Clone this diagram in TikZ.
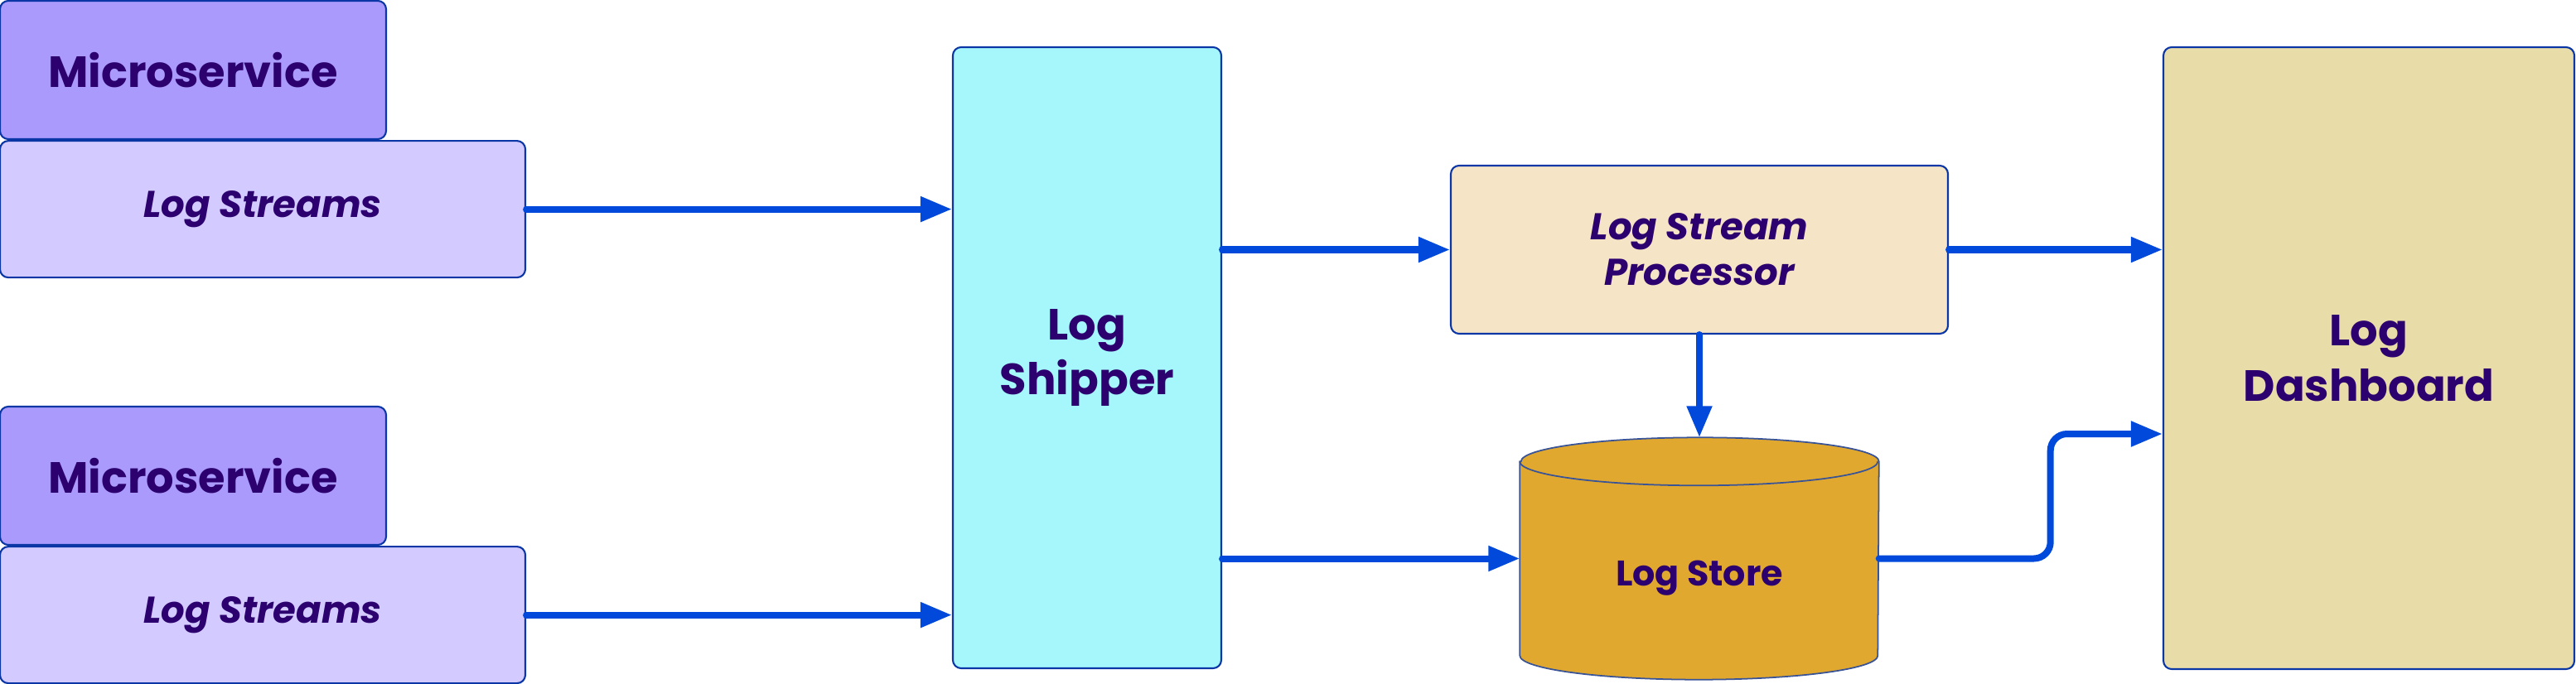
\documentclass[tikz,border=0pt]{standalone}
\usepackage{fontspec}
\setmainfont{Poppins}
\usepackage{tikz}
\usetikzlibrary{arrows.meta, positioning, calc, backgrounds}
\definecolor{svcfill}{HTML}{A99AFC}
\definecolor{streamfill}{HTML}{D3CBFF}
\definecolor{shipfill}{HTML}{A5F7FC}
\definecolor{procfill}{HTML}{F5E4C6}
\definecolor{storefill}{HTML}{E1A830}
\definecolor{dashfill}{HTML}{E8DCA8}
\definecolor{edgeblue}{HTML}{0A36A6}
\definecolor{flowblue}{HTML}{0049DB}
\definecolor{labelink}{HTML}{2C006E}

\begin{document}
\begin{tikzpicture}[
        box/.style={
            rectangle, rounded corners=0.1cm, draw=edgeblue, line width=0.6pt,
            text=labelink, align=center, inner sep=0pt
        },
        bigtext/.style={font=\fontsize{15}{19}\selectfont\bfseries},
        smalltext/.style={font=\fontsize{12.8}{15.6}\selectfont\bfseries\itshape},
        svcbox/.style={box, bigtext, fill=svcfill, minimum width=4.66cm, minimum height=1.67cm},
        streambox/.style={box, smalltext, fill=streamfill, minimum width=6.34cm, minimum height=1.65cm},
        shipbox/.style={box, bigtext, fill=shipfill, minimum width=3.24cm, minimum height=7.5cm},
        procbox/.style={box, smalltext, fill=procfill, minimum width=6.0cm, minimum height=2.03cm},
        storebox/.style={
            rectangle, text=labelink, inner sep=0pt, font=\fontsize{12.2}{15}\selectfont\bfseries,
            minimum width=4.32cm, minimum height=2.91cm, text height=0.65cm, text depth=0cm
        },
        storeshape/.style={fill=storefill, draw=edgeblue!60!gray, line width=0.5pt},
        dashbox/.style={box, bigtext, fill=dashfill, minimum width=4.96cm, minimum height=7.51cm},
        flow/.style={
            line width=0.08cm, draw=flowblue, line cap=round,
            -{Triangle[length=0.38cm, width=0.29cm]}
        },
    ]
    \useasboundingbox (0,0) rectangle (31.09,8.25);

    % Microservices
    \node[svcbox] (ms1) at (2.33,7.405) {Microservice};
    \node[streambox, below right=0cm and 0cm of ms1.south west] (ls1) {Log Streams};
    \node[svcbox] (ms2) at (2.33,2.505) {Microservice};
    \node[streambox, below right=0cm and 0cm of ms2.south west] (ls2) {Log Streams};

    % Pipeline
    \node[shipbox] (ship) at (13.12,3.93) {Log\\Shipper};
    \node[procbox] (proc) at (20.51,5.235) {Log Stream\\Processor};
    \node[storebox] (store) at (20.51,1.505) {Log Store};
    \node[dashbox] (dash) at (28.59,3.925) {Log\\Dashboard};

    % Cylinder behind the store label
    \begin{scope}[on background layer]
        \draw[storeshape] ([yshift=-0.29cm]store.north west) -- ([yshift=0.29cm]store.south west)
            arc[start angle=180, end angle=360, x radius=2.16cm, y radius=0.29cm]
            -- ([yshift=-0.29cm]store.north east)
            arc[start angle=0, end angle=180, x radius=2.16cm, y radius=0.29cm] -- cycle;
        \draw[storeshape, fill=none] ([yshift=-0.29cm]store.north west)
            arc[start angle=180, end angle=360, x radius=2.16cm, y radius=0.29cm];
    \end{scope}

    % ---- Edges ----
    \draw[flow] (ls1.east) -- (ls1.east -| ship.west);
    \draw[flow] (ls2.east) -- (ls2.east -| ship.west);
    \draw[flow] (ship.east |- proc.west) -- (proc.west);
    \draw[flow] (ship.east |- store.west) -- (store.west);
    \draw[flow] (proc.south) -- (store.north);
    \draw[flow] (proc.east) -- (proc.east -| dash.west);
    \draw[flow, rounded corners=0.2cm] (store.east) -- ++(2.07,0) |- ([yshift=-0.915cm]dash.west);

\end{tikzpicture}
\end{document}
